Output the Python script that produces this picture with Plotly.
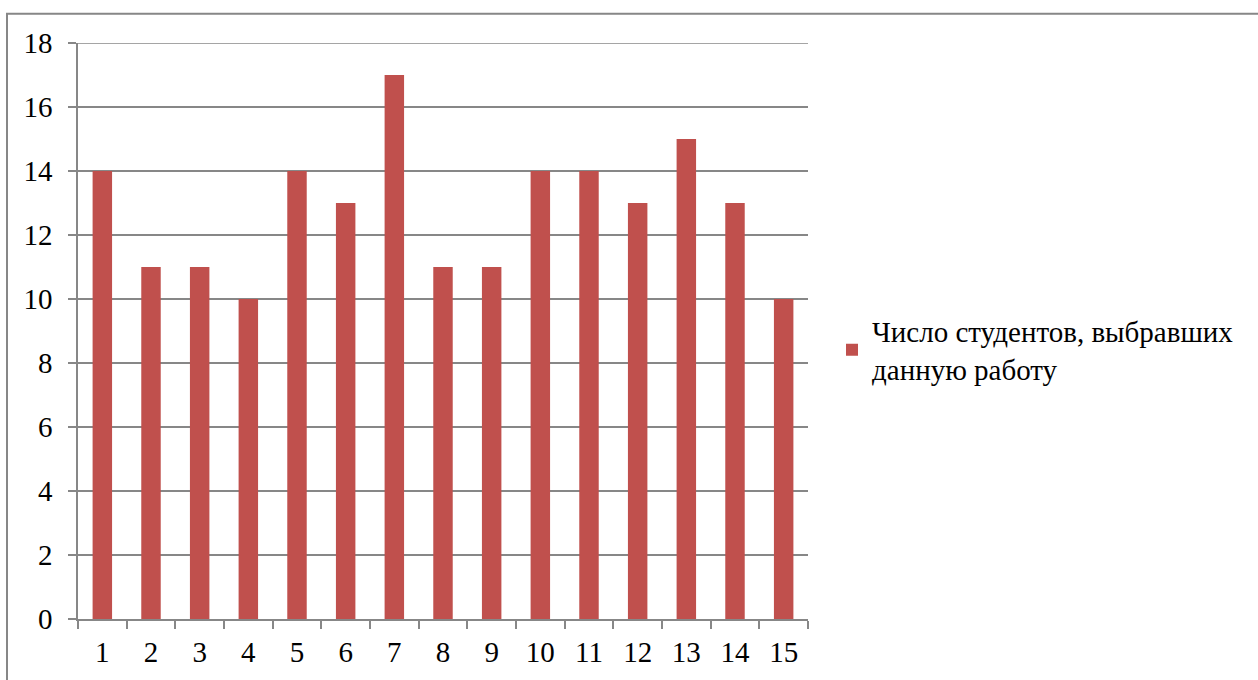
import plotly.graph_objects as go

categories = [str(i) for i in range(1, 16)]
values = [14, 11, 11, 10, 14, 13, 17, 11, 11, 14, 14, 13, 15, 13, 10]
series_name = "Число студентов, выбравших<br>данную работу"
y_ticks = [0, 2, 4, 6, 8, 10, 12, 14, 16, 18]

W, H = 1258, 680
L, R, T, B = 78, 808, 42.7, 619.3

fig = go.Figure()
fig.add_trace(go.Bar(
    x=categories, y=values, name=series_name,
    marker=dict(color="#C0504D", line=dict(width=0)),
    showlegend=True,
))

FAM = "Liberation Serif"
font = dict(family=FAM, size=29, color="black")
grid = "#878787"

def px_x(px):
    return (px - L) / (R - L)

def px_y(py):
    return (B - py) / (B - T)

fig.update_layout(
    template="none",
    width=W, height=H,
    margin=dict(l=L, r=W - R, t=T, b=H - B, pad=0, autoexpand=False),
    paper_bgcolor="white", plot_bgcolor="white",
    font=font,
    bargap=0.6,
    showlegend=True,
    legend=dict(x=px_x(832), y=px_y(350), xanchor="left", yanchor="middle",
                font=dict(family=FAM, size=29, color="black"),
                bgcolor="rgba(0,0,0,0)", borderwidth=0, itemwidth=30, tracegroupgap=0),
    xaxis=dict(
        type="category", showgrid=False, showline=True, linecolor=grid, linewidth=1.5,
        ticks="outside", tickson="boundaries", ticklen=8, tickcolor=grid, tickwidth=1.5,
        tickfont=font, ticklabelstandoff=6, zeroline=False, automargin=False,
    ),
    yaxis=dict(
        range=[0, 18], tickvals=y_ticks, showgrid=True, gridcolor=grid, gridwidth=1.5,
        showline=True, linecolor=grid, linewidth=1.5,
        ticks="outside", ticklen=8, tickcolor=grid, tickwidth=1.5,
        tickfont=font, ticklabelstandoff=10, zeroline=False, automargin=False,
    ),
    shapes=[
        dict(type="rect", xref="paper", yref="paper",
             x0=px_x(7), x1=px_x(1270), y0=px_y(700), y1=px_y(13.5),
             line=dict(color="#878787", width=2), fillcolor="rgba(0,0,0,0)", layer="below"),
        dict(type="line", xref="paper", yref="y", x0=0, x1=1, y0=y_ticks[-1], y1=y_ticks[-1],
             line=dict(color=grid, width=1.5), layer="below"),
    ],
)

fig.write_html("out.html")
